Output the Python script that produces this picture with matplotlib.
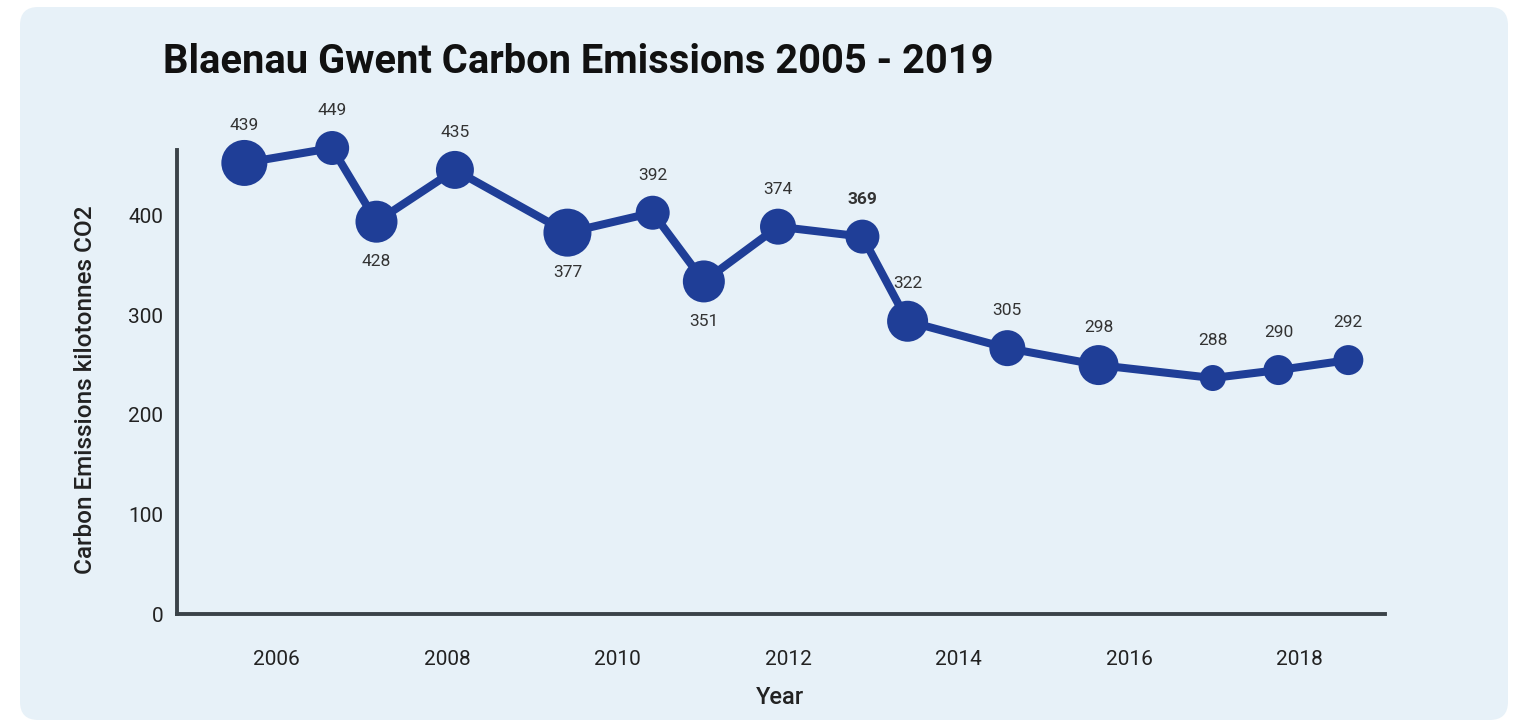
import matplotlib
matplotlib.use("Agg")
import matplotlib.pyplot as plt
from matplotlib.patches import FancyBboxPatch

# values (point heights) and the printed data labels
years = [2005.62, 2006.65, 2007.17, 2008.09, 2009.41, 2010.41, 2011.01, 2011.88,
         2012.87, 2013.40, 2014.57, 2015.64, 2016.98, 2017.75, 2018.57]
emissions = [453, 468, 394, 446, 383, 403, 334, 389, 379, 294, 267, 250, 237, 245, 255]
labels = ["439", "449", "428", "435", "377", "392", "351", "374",
          "369", "322", "305", "298", "288", "290", "292"]
below = [2, 4, 6]  # labels drawn under the point
marker_px = [46, 34, 42, 38, 48, 34, 42, 36, 34, 41, 36, 40, 26, 30, 30]

x_ticks = [2006, 2008, 2010, 2012, 2014, 2016, 2018]
y_ticks = [0, 100, 200, 300, 400]

navy = "#1f3e97"
panel = "#e7f1f8"
font = "Roboto"

fig = plt.figure(figsize=(15.16, 7.24), dpi=100)
fig.patch.set_facecolor("white")
bg = FancyBboxPatch((20 / 1516, 4 / 724), 1488 / 1516, 713 / 724,
                    boxstyle="round,pad=0,rounding_size=0.012",
                    transform=fig.transFigure, facecolor=panel, edgecolor="none",
                    mutation_aspect=1516 / 724, zorder=-10)
fig.patches.append(bg)

ax = fig.add_axes([177 / 1516, 110 / 724, 1208 / 1516, 464 / 724])
ax.set_facecolor("none")

ax.plot(years, emissions, color=navy, lw=5.8, zorder=2, solid_capstyle="round",
        clip_on=False)
ax.scatter(years, emissions, s=[(d * 0.72) ** 2 for d in marker_px], color=navy,
           zorder=3, linewidths=0, clip_on=False)

for i, (x, y, t) in enumerate(zip(years, emissions, labels)):
    dy = -29 if i in below else 27
    ax.annotate(t, (x, y), xytext=(0, dy), textcoords="offset points",
                ha="center", va="center", fontsize=12.5, color="#333333",
                family=font, fontweight="bold" if t == "369" else "normal",
                annotation_clip=False)

ax.set_xlim(2004.83, 2019.0)
ax.set_ylim(0, 466)
ax.set_xticks(x_ticks)
ax.set_xticklabels([str(v) for v in x_ticks])
ax.set_yticks(y_ticks)
ax.tick_params(length=0, labelsize=15, colors="#222222")
ax.tick_params(axis="x", pad=26)
ax.tick_params(axis="y", pad=10)
for lab in ax.get_xticklabels() + ax.get_yticklabels():
    lab.set_family(font)

for side in ["top", "right"]:
    ax.spines[side].set_visible(False)
for side in ["left", "bottom"]:
    ax.spines[side].set_color("#3b4349")
    ax.spines[side].set_linewidth(2.8)

fig.text(163 / 1516, 1 - 62 / 724, "Blaenau Gwent Carbon Emissions 2005 - 2019",
         ha="left", va="center", fontsize=28.7, fontweight="bold", family=font,
         color="#111111")
fig.text(86 / 1516, 1 - 390 / 724, "Carbon Emissions kilotonnes CO2", rotation=90,
         ha="center", va="center", fontsize=17.5, fontweight="medium", family=font,
         color="#222222")
fig.text(780 / 1516, 1 - 698 / 724, "Year", ha="center", va="center", fontsize=17,
         fontweight="medium", family=font, color="#222222")

fig.savefig("out.png", dpi=100)
